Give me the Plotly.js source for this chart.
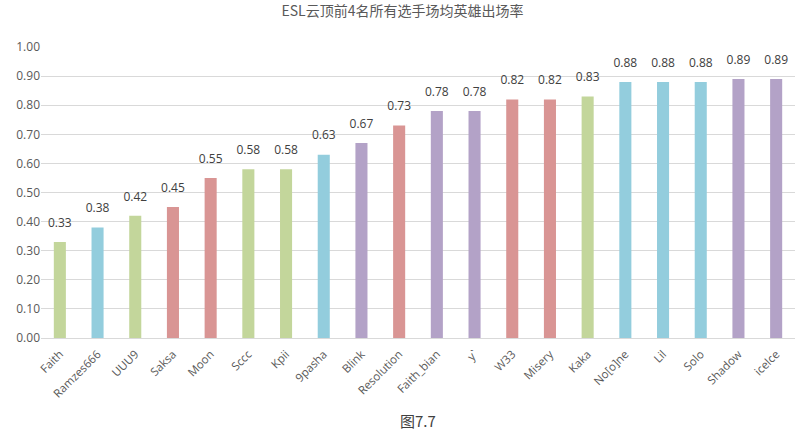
<!DOCTYPE html>
<html>
<head>
<meta charset="utf-8">
<script src="https://cdn.plot.ly/plotly-3.0.1.min.js"></script>
<style>
  body { margin: 0; background: #fff; }
  #chart { width: 805px; height: 436px; }
</style>
</head>
<body>
<div id="chart"></div>
<script>
var players = ['Faith', 'Ramzes666', 'UUU9', 'Saksa', 'Moon', 'Sccc', 'Kpii', '9pasha', 'Blink', 'Resolution',
  'Faith_bian', 'y`', 'W33', 'Misery', 'Kaka', 'No[o]ne', 'Lil', 'Solo', 'Shadow', 'icelce'];
var rates = [0.33, 0.38, 0.42, 0.45, 0.55, 0.58, 0.58, 0.63, 0.67, 0.73,
  0.78, 0.78, 0.82, 0.82, 0.83, 0.88, 0.88, 0.88, 0.89, 0.89];
var yTicks = [0, 0.1, 0.2, 0.3, 0.4, 0.5, 0.6, 0.7, 0.8, 0.9, 1.0];

var green = '#c3d69b', blue = '#93cddd', red = '#d99594', purple = '#b3a2c7';
var barColors = [green, blue, green, red, red, green, green, blue, purple, red,
  purple, purple, red, red, green, blue, blue, blue, purple, purple];

var bars = {
  x: players,
  y: rates,
  type: 'bar',
  width: 0.32,
  marker: { color: barColors },
  hoverinfo: 'x+y'
};

// value labels above the bars, invisible markers just push the text up a bit
var labels = {
  x: players,
  y: rates,
  type: 'scatter',
  mode: 'markers+text',
  marker: { size: 18, opacity: 0 },
  text: rates.map(function (v) { return v.toFixed(2); }),
  textposition: 'top center',
  cliponaxis: false,
  textfont: { size: 12, color: '#404040', family: 'Open Sans, sans-serif' },
  hoverinfo: 'skip'
};

var layout = {
  width: 805,
  height: 436,
  margin: { l: 41, r: 10, t: 47, b: 98 },
  paper_bgcolor: '#fff',
  plot_bgcolor: '#fff',
  showlegend: false,
  title: {
    text: 'ESL云顶前4名所有选手场均英雄出场率',
    font: { size: 14, color: '#595959', family: 'Noto Sans CJK SC, sans-serif' },
    x: 0.5, xanchor: 'center', y: 0.975, yanchor: 'middle'
  },
  xaxis: {
    range: [-0.5, players.length - 0.5],
    tickangle: -45,
    tickfont: { size: 11.5, color: '#595959', family: 'Open Sans, sans-serif' },
    showline: true,
    linecolor: '#d9d9d9',
    ticks: 'outside',
    ticklen: 4,
    tickcolor: 'rgba(0,0,0,0)',
    fixedrange: true
  },
  yaxis: {
    range: [0, 1.0],
    tickvals: yTicks,
    ticktext: yTicks.map(function (v) { return v.toFixed(2); }),
    tickfont: { size: 12, color: '#595959', family: 'Open Sans, sans-serif' },
    gridcolor: '#d9d9d9',
    zeroline: false,
    ticks: '',
    fixedrange: true
  },
  annotations: [{
    text: '图7.7',
    xref: 'paper', yref: 'paper',
    x: 0.5, y: -0.285,
    xanchor: 'center', yanchor: 'middle',
    showarrow: false,
    font: { size: 15, color: '#404040', family: 'Noto Sans CJK SC, sans-serif' }
  }]
};

Plotly.newPlot('chart', [bars, labels], layout, { displayModeBar: false, staticPlot: true });
</script>
</body>
</html>
